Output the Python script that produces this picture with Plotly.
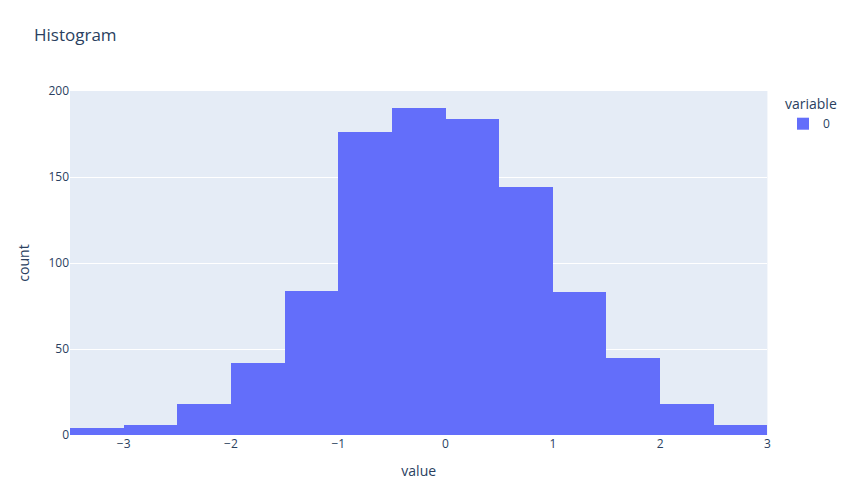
import plotly.graph_objects as go

# Histogram bins (left edges, width 0.5) and counts
bin_start = -3.5
bin_end = 3.0
bin_size = 0.5
bin_centers = [-3.25, -2.75, -2.25, -1.75, -1.25, -0.75, -0.25, 0.25, 0.75, 1.25, 1.75, 2.25, 2.75]
counts = [4, 6, 18, 42, 84, 176, 190, 184, 144, 83, 45, 18, 6]
series_name = "0"

fig = go.Figure()
fig.add_trace(go.Histogram(
    x=bin_centers,
    y=counts,
    histfunc="sum",
    xbins=dict(start=bin_start, end=bin_end, size=bin_size),
    name=series_name,
    legendgroup=series_name,
    marker=dict(color="#636efa"),
    showlegend=True,
    hovertemplate="variable=0<br>value=%{x}<br>count=%{y}<extra></extra>",
))
fig.update_layout(
    template="plotly",
    width=845,
    height=502,
    title=dict(text="Histogram", x=34 / 845, xanchor="left", xref="container",
               y=1 - 35 / 502, yanchor="middle", yref="container"),
    xaxis=dict(title=dict(text="value")),
    yaxis=dict(title=dict(text="count")),
    legend=dict(title=dict(text="variable"), tracegroupgap=0,
                xref="container", yref="container",
                x=783 / 845, xanchor="left", y=1 - 91 / 502, yanchor="top"),
    barmode="relative",
    margin=dict(l=70, r=76, t=91, b=67),
)
fig.write_html(
    "out.html",
    config={"displayModeBar": False},
    post_script="document.body.style.margin='0';document.body.style.overflow='hidden';",
)
